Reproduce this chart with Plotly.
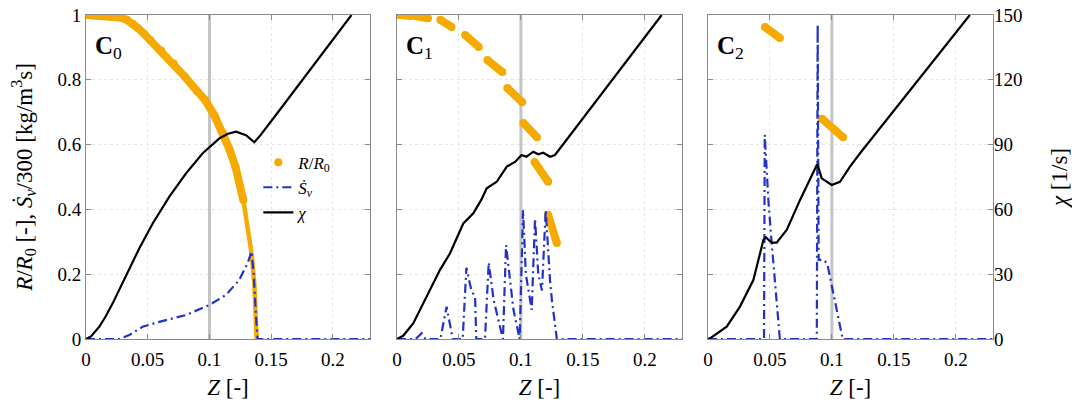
import plotly.graph_objects as go

# ---- data ----
z_ref = 0.1

# C0: orange band drawn thick at the top, thinner near the bottom
c0_r_z = [0, 0.01, 0.02, 0.028, 0.033, 0.038, 0.042, 0.047, 0.052, 0.061, 0.071, 0.08, 0.09, 0.0964,
          0.104, 0.111, 0.116, 0.121, 0.1274]
c0_r = [1.0, 0.998, 0.995, 0.992, 0.985, 0.973, 0.96, 0.942, 0.923, 0.89, 0.85, 0.81, 0.765, 0.738,
        0.69, 0.635, 0.587, 0.532, 0.429]
c0_r2_z = [0.1274, 0.1317, 0.1341, 0.1363, 0.1377, 0.1382]
c0_r2 = [0.429, 0.326, 0.264, 0.172, 0.069, 0.0]
c0_s_z = [0, 0.027, 0.035, 0.0459, 0.0594, 0.081, 0.1, 0.1134, 0.124, 0.1309, 0.1341, 0.1358,
          0.1377, 0.139, 0.23]
c0_s = [0, 0, 0.012, 0.038, 0.053, 0.074, 0.105, 0.136, 0.182, 0.234, 0.27, 0.2, 0.069, 0, 0]
c0_chi_z = [0, 0.004, 0.0108, 0.0160, 0.0216, 0.0324, 0.0432, 0.054, 0.0675, 0.081, 0.0945, 0.108,
            0.115, 0.1215, 0.1296, 0.1363, 0.1404, 0.1538, 0.215]
c0_chi = [0, 1.2, 5.7, 10.5, 16.5, 28.9, 42, 53.5, 65.9, 76.7, 86, 92.9,
          95, 96, 94.4, 91.1, 93.7, 103.7, 150]

# C1 (orange drawn in separate dashes)
c1_r_z = [0.002, 0.011, None, 0.015, 0.025, None, 0.035, 0.044, None, 0.055, 0.066, None,
          0.073, 0.085, None, 0.089, 0.101, None, 0.102, 0.113, None, 0.111, 0.122, None, 0.122, 0.129]
c1_r = [1.0, 0.997, None, 0.997, 0.99, None, 0.985, 0.963, None, 0.938, 0.901, None,
        0.861, 0.824, None, 0.775, 0.731, None, 0.667, 0.623, None, 0.546, 0.485, None, 0.383, 0.296]
c1_s_z = [0, 0.015, 0.02, 0.023, 0.035, 0.040, 0.045, 0.053, 0.056, 0.060, 0.063, 0.064, 0.071, 0.074,
          0.078, 0.0845, 0.0855, 0.088, 0.091, 0.094, 0.099, 0.1017, 0.104, 0.1087, 0.1114, 0.114,
          0.117, 0.120, 0.1235, 0.125, 0.129, 0.23]
c1_s = [0, 0, 0.018, 0, 0, 0.10, 0, 0, 0.22, 0.15, 0.13, 0, 0, 0.236,
        0.12, 0.008, 0, 0.29, 0.18, 0.09, 0, 0.398, 0.2, 0.09, 0.372, 0.2,
        0.15, 0.398, 0.18, 0.12, 0, 0]
c1_chi_z = [0, 0.005, 0.0132, 0.024, 0.0347, 0.0428, 0.0535, 0.0616, 0.068, 0.0724, 0.0805, 0.0886,
            0.0955, 0.1005, 0.1045, 0.11, 0.114, 0.118, 0.1235, 0.1275, 0.2136]
c1_chi = [0, 1.5, 7.3, 19.5, 32, 39.7, 53.5, 58.2, 64.4, 69.8, 72.8, 79.8,
          82.1, 85.2, 84.4, 86.7, 85.5, 86.2, 84.4, 85.2, 150]

# C2
c2_r_z = [0.046, 0.058, None, 0.092, 0.109]
c2_r = [0.963, 0.929, None, 0.68, 0.623]
c2_s_z = [0, 0.0452, 0.0458, 0.0473, 0.0487, 0.0514, 0.054, 0.0567, 0.058, 0.0878, 0.0885, 0.0893,
          0.0938, 0.0964, 0.103, 0.1087, 0.23]
c2_s = [0, 0, 0.63, 0.532, 0.429, 0.295, 0.182, 0.069, 0, 0, 0.97, 0.244,
        0.244, 0.23, 0.107, 0, 0]
c2_chi_z = [0, 0.0016, 0.0151, 0.0258, 0.0366, 0.0447, 0.0466, 0.0514, 0.0554, 0.0635, 0.0743,
            0.0882, 0.0918, 0.0998, 0.1065, 0.1146, 0.1227, 0.2113]
c2_chi = [0, 0.3, 5.7, 15, 27.3, 45.8, 47.1, 44.6, 44.6, 50.5, 64.4,
          81, 74.4, 71.3, 72.8, 79.8, 86, 150]

panels = [
    (c0_r_z, c0_r, c0_s_z, c0_s, c0_chi_z, c0_chi),
    (c1_r_z, c1_r, c1_s_z, c1_s, c1_chi_z, c1_chi),
    (c2_r_z, c2_r, c2_s_z, c2_s, c2_chi_z, c2_chi),
]

ORANGE = "#f6aa00"
BLUE = "#2232c4"
FONT = "Liberation Serif, DejaVu Serif, serif"
DASH = "9px,4px,2px,4px"

fig = go.Figure()

for i, (rz, r, sz, s, cz, chi) in enumerate(panels):
    n = i + 1
    xa = "x" if n == 1 else f"x{n}"
    ya = "y" if n == 1 else f"y{n}"
    ya2 = f"y{n + 3}"
    # reference line
    fig.add_trace(go.Scatter(x=[z_ref, z_ref], y=[0, 1], mode="lines", xaxis=xa, yaxis=ya,
                             line=dict(color="#c4c4c4", width=3), showlegend=False, hoverinfo="skip"))
    fig.add_trace(go.Scatter(x=rz, y=r, mode="lines+markers", xaxis=xa, yaxis=ya,
                             line=dict(color=ORANGE, width=8), marker=dict(color=ORANGE, size=8),
                             showlegend=False, connectgaps=False))
    if n == 1:
        fig.add_trace(go.Scatter(x=c0_r2_z, y=c0_r2, mode="lines", xaxis=xa, yaxis=ya,
                                 line=dict(color=ORANGE, width=4.5), showlegend=False))
    fig.add_trace(go.Scatter(x=sz, y=s, mode="lines", xaxis=xa, yaxis=ya,
                             line=dict(color=BLUE, width=2.2, dash=DASH),
                             showlegend=False))
    fig.add_trace(go.Scatter(x=cz, y=chi, mode="lines", xaxis=xa, yaxis=ya2,
                             line=dict(color="black", width=2.2), showlegend=False))

# legend entries
fig.add_trace(go.Scatter(x=[None], y=[None], mode="markers", name="<i>R</i>/<i>R</i><sub>0</sub>",
                         marker=dict(color=ORANGE, size=8)))
fig.add_trace(go.Scatter(x=[None], y=[None], mode="lines", name="<i>Ṡ</i><sub><i>v</i></sub>",
                         line=dict(color=BLUE, width=2.2, dash=DASH)))
fig.add_trace(go.Scatter(x=[None], y=[None], mode="lines", name="<i>χ</i>",
                         line=dict(color="black", width=2.2)))

W = 907.0
domains = [[0, 284 / W], [311 / W, 596 / W], [622 / W, 1]]
x_ticks = [0, 0.05, 0.1, 0.15, 0.2]
x_labels = ["0", "0.05", "0.1", "0.15", "0.2"]
y_ticks = [0, 0.2, 0.4, 0.6, 0.8, 1]
y_labels = ["0", "0.2", "0.4", "0.6", "0.8", "1"]
chi_ticks = [0, 30, 60, 90, 120, 150]

axis_common = dict(showline=True, linecolor="#8a8a8a", linewidth=1, mirror="ticks",
                   ticks="inside", ticklen=5, tickcolor="#8a8a8a",
                   showgrid=True, gridcolor="#e6e6e6", griddash="dot", gridwidth=1,
                   zeroline=False, tickfont=dict(size=19), automargin=False,
                   ticklabeloverflow="allow")

layout = {}
for i in range(3):
    n = i + 1
    xk = "xaxis" if n == 1 else f"xaxis{n}"
    yk = "yaxis" if n == 1 else f"yaxis{n}"
    yk2 = f"yaxis{n + 3}"
    anchor_x = "x" if n == 1 else f"x{n}"
    anchor_y = "y" if n == 1 else f"y{n}"
    layout[xk] = dict(axis_common, domain=domains[i], range=[0, 0.23], anchor=anchor_y,
                      tickvals=x_ticks, ticktext=x_labels, ticklabelstandoff=3,
                      title=dict(text="<i>Z</i> [-]", standoff=10))
    layout[yk] = dict(axis_common, domain=[0, 1], range=[0, 1], anchor=anchor_x,
                      tickvals=y_ticks, ticktext=y_labels, showticklabels=(n == 1))
    layout[yk2] = dict(overlaying=anchor_y, anchor=anchor_x, side="right", range=[0, 150],
                       tickvals=chi_ticks, showgrid=False, zeroline=False, showline=False,
                       ticks="", showticklabels=(n == 3), tickfont=dict(size=19), automargin=False,
                       ticklabeloverflow="allow")

layout["yaxis"]["title"] = dict(text="<i>R</i>/<i>R</i><sub>0</sub> [-], <i>Ṡ</i><sub><i>v</i></sub>/300 [kg/m<sup>3</sup>s]",
                                standoff=27)
layout["yaxis6"]["title"] = dict(text="<i>χ</i> [1/s]", standoff=29)

fig.update_layout(**layout)

for i in range(3):
    n = i + 1
    fig.add_annotation(x=0.006, y=0.9, xref="x" if n == 1 else f"x{n}", yref="y" if n == 1 else f"y{n}",
                       text=f"<b>C</b><sub>{i}</sub>", showarrow=False, xanchor="left", yanchor="middle",
                       font=dict(size=25, color="black"))

# page has an 8px body margin, so the figure is shrunk by it and margins shifted
fig.update_layout(
    width=1072, height=397,
    margin=dict(l=78, r=87, t=7, b=66, autoexpand=False),
    paper_bgcolor="white", plot_bgcolor="white",
    font=dict(family=FONT, size=19, color="black"),
    legend=dict(x=0.19, y=0.6, xanchor="left", yanchor="top", bgcolor="rgba(0,0,0,0)",
                font=dict(size=17), tracegroupgap=0),
)

fig.write_html("out.html")
